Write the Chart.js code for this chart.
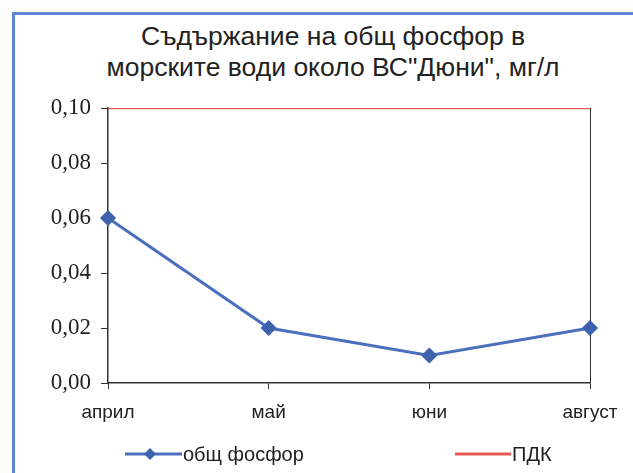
<!DOCTYPE html>
<html>
<head>
<meta charset="utf-8">
<script src="https://cdn.jsdelivr.net/npm/chart.js@4.4.0/dist/chart.umd.min.js"></script>
<style>
  html, body { margin: 0; padding: 0; background: #fdfdfd; }
  #wrap { position: relative; width: 633px; height: 473px; overflow: hidden; }
  #frame {
    position: absolute; left: 12px; top: 12px; width: 640px; height: 480px;
    border: 3px solid #5a86d4; box-sizing: border-box; background: #fff;
  }
  #title {
    position: absolute; left: 83px; width: 500px; top: 21px;
    text-align: center; font-family: "Liberation Sans", Arial, sans-serif;
    font-size: 26.5px; line-height: 31px; color: #222;
  }
  canvas { position: absolute; left: 0; top: 0; }
  .leg {
    position: absolute; top: 441px; height: 26px; display: flex; align-items: center;
    font-family: "Liberation Sans", Arial, sans-serif; font-size: 20px; color: #222;
  }
</style>
</head>
<body>
<div id="wrap">
  <div id="frame"></div>
  <div id="title">Съдържание на общ фосфор в<br>морските води около ВС"Дюни", мг/л</div>
  <canvas id="chart" width="633" height="473"></canvas>
  <div class="leg" style="left:125px">
    <svg width="58" height="14"><line x1="0" y1="7" x2="57" y2="7" stroke="#4a70bd" stroke-width="3"/>
      <polygon points="25,1 31,7 25,13 19,7" fill="#3f62ad"/></svg>
    <span>общ фосфор</span>
  </div>
  <div class="leg" style="left:455px">
    <svg width="57" height="14"><line x1="0" y1="7" x2="56" y2="7" stroke="#e65a55" stroke-width="3"/></svg>
    <span>ПДК</span>
  </div>
</div>
<script>
// data
const months = ['април', 'май', 'юни', 'август'];
const phosphorus = [0.06, 0.02, 0.01, 0.02];
const pdk = [0.10, 0.10, 0.10, 0.10];

const axisColor = '#333';

const ctx = document.getElementById('chart').getContext('2d');
new Chart(ctx, {
  type: 'line',
  data: {
    labels: months,
    datasets: [
      {
        label: 'общ фосфор',
        data: phosphorus,
        borderColor: '#4a70bd',
        borderWidth: 3,
        pointStyle: 'rectRot',
        pointRadius: 6,
        pointBackgroundColor: '#3f62ad',
        pointBorderColor: '#3f62ad',
        tension: 0,
      },
      {
        label: 'ПДК',
        data: pdk,
        borderColor: '#e65a55',
        borderWidth: 2.5,
        pointRadius: 0,
        tension: 0,
      }
    ]
  },
  options: {
    responsive: false,
    animation: false,
    layout: { padding: { left: 20, right: 43, top: 108, bottom: 50 } },
    plugins: { legend: { display: false }, title: { display: false }, tooltip: { enabled: false } },
    scales: {
      x: {
        offset: false,
        afterFit: s => { s.height = 40; },
        grid: {
          drawOnChartArea: true,
          color: c => c.index === months.length - 1 ? axisColor : 'rgba(0,0,0,0)',
          tickColor: axisColor,
          tickLength: 6,
        },
        border: { color: axisColor, width: 1.5 },
        ticks: {
          color: '#222',
          padding: 12,
          maxRotation: 0,
          font: { family: 'Liberation Sans', size: 19 },
        },
      },
      y: {
        min: 0,
        max: 0.1,
        afterFit: s => { s.width = 88; },
        grid: { drawOnChartArea: false, tickColor: axisColor, tickLength: 7 },
        border: { color: axisColor, width: 1.5 },
        ticks: {
          stepSize: 0.02,
          color: '#222',
          padding: 10,
          font: { family: 'Liberation Serif', size: 23 },
          callback: v => v.toFixed(2).replace('.', ','),
        },
      }
    }
  }
});
</script>
</body>
</html>
